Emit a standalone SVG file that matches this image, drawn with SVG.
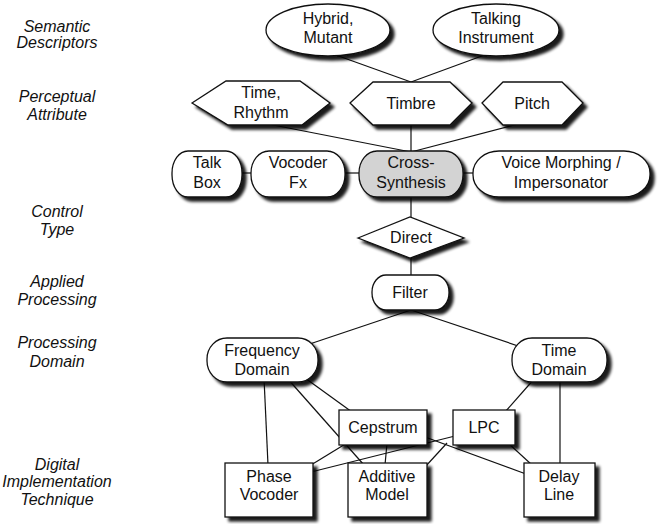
<svg xmlns="http://www.w3.org/2000/svg" width="666" height="524" viewBox="0 0 666 524">
<defs>
<filter id="sh" x="-20%" y="-30%" width="150%" height="170%">
<feGaussianBlur in="SourceAlpha" stdDeviation="1.8" result="b"/>
<feOffset in="b" dx="4" dy="4" result="o"/>
<feComponentTransfer in="o" result="d"><feFuncA type="linear" slope="0.9"/></feComponentTransfer>
<feMerge><feMergeNode in="d"/><feMergeNode in="SourceGraphic"/></feMerge>
</filter>
</defs>
<style>
.n{fill:#fff;stroke:#111;stroke-width:1.3;filter:url(#sh)}
.g{fill:#d3d3d3}
.t{font-family:"Liberation Sans",Arial,sans-serif;font-size:16px;fill:#111;text-anchor:middle}
.l{font-family:"Liberation Sans",Arial,sans-serif;font-size:16px;font-style:italic;fill:#111;text-anchor:middle}
.c{stroke:#111;stroke-width:1.2;fill:none}
</style>
<rect width="666" height="524" fill="#fff"/>
<g id="labels">
<text class="l" x="57" y="32">Semantic</text><text class="l" x="57" y="48">Descriptors</text>
<text class="l" x="57" y="102">Perceptual</text><text class="l" x="57" y="120">Attribute</text>
<text class="l" x="57" y="217">Control</text><text class="l" x="57" y="235">Type</text>
<text class="l" x="57" y="287">Applied</text><text class="l" x="57" y="305">Processing</text>
<text class="l" x="57" y="348">Processing</text><text class="l" x="57" y="367">Domain</text>
<text class="l" x="57" y="470">Digital</text><text class="l" x="57" y="487">Implementation</text><text class="l" x="57" y="505">Technique</text>
</g>
<g id="connectors" class="c">
<line x1="333" y1="54" x2="411" y2="82"/>
<line x1="490" y1="53" x2="411" y2="82"/>
<line x1="268" y1="124" x2="411" y2="152"/>
<line x1="411" y1="124" x2="411" y2="152"/>
<line x1="518" y1="124" x2="411" y2="152"/>
<line x1="240" y1="173" x2="252" y2="173"/>
<line x1="343" y1="173" x2="360" y2="173"/>
<line x1="461" y1="173" x2="475" y2="173"/>
<line x1="411" y1="196" x2="411" y2="218"/>
<line x1="411" y1="257" x2="411" y2="276"/>
<line x1="411" y1="310" x2="262" y2="360"/>
<line x1="411" y1="310" x2="560" y2="360"/>
<line x1="264" y1="378" x2="268" y2="465"/>
<line x1="287" y1="378" x2="364" y2="465"/>
<line x1="305" y1="378" x2="352" y2="412"/>
<line x1="535" y1="378" x2="505" y2="412"/>
<line x1="560" y1="378" x2="560" y2="465"/>
<line x1="347" y1="443" x2="311" y2="465"/>
<line x1="387" y1="443" x2="385" y2="465"/>
<line x1="425" y1="437" x2="526" y2="474"/>
<line x1="455" y1="436" x2="311" y2="472"/>
<line x1="447" y1="443" x2="425" y2="467"/>
<line x1="508" y1="443" x2="532" y2="465"/>
</g>
<g id="hybrid"><ellipse class="n" cx="328" cy="30" rx="62" ry="26"/><text class="t" x="328" y="24">Hybrid,</text><text class="t" x="328" y="43">Mutant</text></g>
<g id="talking"><ellipse class="n" cx="496" cy="30" rx="63" ry="26"/><text class="t" x="496" y="24">Talking</text><text class="t" x="496" y="43">Instrument</text></g>
<g id="timerhythm"><polygon class="n" points="192,103 226,81 300,81 330,103 302,125 228,125"/><text class="t" x="261" y="98">Time,</text><text class="t" x="261" y="118">Rhythm</text></g>
<g id="timbre"><polygon class="n" points="350,103 373,82 450,82 472,103 450,125 373,125"/><text class="t" x="411" y="109">Timbre</text></g>
<g id="pitch"><polygon class="n" points="482,103 503,82 562,82 583,103 562,125 503,125"/><text class="t" x="532" y="109">Pitch</text></g>
<g id="talkbox"><rect class="n" x="172" y="151" width="70" height="46" rx="16" ry="22"/><text class="t" x="207" y="168">Talk</text><text class="t" x="207" y="188">Box</text></g>
<g id="vocoderfx"><rect class="n" x="251" y="151" width="94" height="46" rx="18" ry="22"/><text class="t" x="298" y="168">Vocoder</text><text class="t" x="298" y="188">Fx</text></g>
<g id="cross"><rect class="n g" x="359" y="151" width="104" height="46" rx="18" ry="22"/><text class="t" x="411" y="168">Cross-</text><text class="t" x="411" y="188">Synthesis</text></g>
<g id="voicemorph"><rect class="n" x="473" y="151" width="177" height="46" rx="26" ry="22"/><text class="t" x="561" y="168">Voice Morphing /</text><text class="t" x="561" y="188">Impersonator</text></g>
<g id="direct"><polygon class="n" points="358,238 410,217 464,238 410,258"/><text class="t" x="411" y="243">Direct</text></g>
<g id="filter"><rect class="n" x="372" y="275" width="77" height="35" rx="14" ry="17"/><text class="t" x="410" y="298">Filter</text></g>
<g id="freqdomain"><rect class="n" x="207" y="338" width="111" height="44" rx="20" ry="21"/><text class="t" x="262" y="356">Frequency</text><text class="t" x="262" y="375">Domain</text></g>
<g id="timedomain"><rect class="n" x="512" y="338" width="95" height="44" rx="20" ry="21"/><text class="t" x="559" y="356">Time</text><text class="t" x="559" y="375">Domain</text></g>
<g id="cepstrum"><rect class="n" x="339" y="410" width="88" height="35"/><text class="t" x="383" y="433">Cepstrum</text></g>
<g id="lpc"><rect class="n" x="453" y="410" width="62" height="35"/><text class="t" x="484" y="433">LPC</text></g>
<g id="phasevocoder"><rect class="n" x="225" y="463" width="88" height="54"/><text class="t" x="269" y="482">Phase</text><text class="t" x="269" y="500">Vocoder</text></g>
<g id="additive"><rect class="n" x="348" y="463" width="79" height="54"/><text class="t" x="387" y="482">Additive</text><text class="t" x="387" y="500">Model</text></g>
<g id="delayline"><rect class="n" x="524" y="463" width="71" height="54"/><text class="t" x="559" y="482">Delay</text><text class="t" x="559" y="500">Line</text></g>
</svg>
